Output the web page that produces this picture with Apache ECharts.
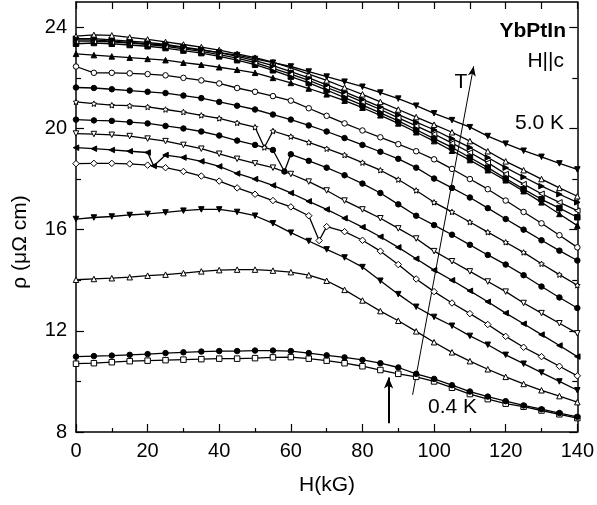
<!DOCTYPE html>
<html><head><meta charset="utf-8">
<script src="https://cdn.jsdelivr.net/npm/echarts@6/dist/echarts.min.js"></script>
<style>html,body{margin:0;padding:0;background:#fff}#c{width:597px;height:505px}</style>
</head><body><div id="c"></div>
<script>
// Magnetic field (kG)
const fieldKG = [0,5,10,15,20,25,30,35,40,45,50,55,60,65,70,75,80,85,90,95,100,105,110,115,120,125,130,135,140];
// Resistivity curves (μΩ cm), lowest temperature (0.4 K) first, highest (5.0 K) last
const rhoC01 = [10.70,10.72,10.76,10.80,10.82,10.84,10.86,10.88,10.90,10.90,10.92,10.95,10.96,10.90,10.82,10.72,10.60,10.45,10.30,10.18,10.00,9.75,9.50,9.30,9.12,9.00,8.85,8.70,8.55];
const rhoC02 = [10.98,11.00,11.02,11.05,11.08,11.12,11.15,11.18,11.20,11.20,11.22,11.22,11.20,11.12,11.03,10.95,10.85,10.72,10.55,10.30,10.10,9.85,9.60,9.40,9.22,9.05,8.90,8.75,8.60];
const rhoC03 = [14.02,14.05,14.08,14.12,14.18,14.22,14.28,14.35,14.40,14.42,14.42,14.38,14.32,14.20,13.98,13.62,13.20,12.78,12.40,11.98,11.55,11.15,10.80,10.48,10.18,9.90,9.65,9.42,9.18];
const rhoC04 = [16.42,16.48,16.52,16.58,16.62,16.68,16.75,16.80,16.80,16.70,16.55,16.25,15.88,15.55,15.22,14.90,14.52,13.98,13.45,12.95,12.55,12.20,11.80,11.45,11.05,10.70,10.35,10.00,9.65];
const rhoC05 = [18.61,18.62,18.62,18.60,18.55,18.45,18.30,18.12,17.92,17.65,17.40,17.15,16.90,16.55,16.12,15.92,15.58,15.15,14.62,14.05,13.55,13.10,12.68,12.25,11.78,11.35,10.98,10.60,10.22];
const rhoC06 = [19.24,19.20,19.15,19.10,19.05,18.95,18.85,18.70,18.50,18.22,18.00,17.75,17.45,17.12,16.80,16.45,16.10,15.72,15.30,14.85,14.40,14.00,13.58,13.15,12.70,12.28,11.85,11.42,10.98];
const rhoC07 = [19.80,19.78,19.75,19.70,19.60,19.50,19.35,19.20,19.00,18.80,18.62,18.45,18.20,17.90,17.55,17.15,16.80,16.45,16.05,15.65,15.15,14.75,14.35,13.95,13.55,13.10,12.70,12.30,11.90];
const rhoC08 = [20.35,20.32,20.30,20.25,20.20,20.10,20.00,19.88,19.72,19.52,19.35,19.15,18.98,18.72,18.45,18.15,17.82,17.45,17.00,16.55,16.18,15.80,15.40,15.00,14.62,14.20,13.75,13.32,12.90];
const rhoC09 = [21.05,20.98,20.92,20.90,20.85,20.75,20.65,20.52,20.40,20.22,20.05,19.90,19.68,19.45,19.20,18.95,18.65,18.35,17.98,17.55,17.08,16.70,16.30,15.90,15.50,15.10,14.65,14.22,13.80];
const rhoC10 = [21.62,21.60,21.55,21.50,21.45,21.40,21.30,21.20,21.05,20.90,20.75,20.55,20.35,20.12,19.88,19.62,19.35,19.08,18.80,18.45,18.02,17.65,17.27,16.85,16.42,16.00,15.58,15.17,14.78];
const rhoC11 = [22.45,22.20,22.20,22.18,22.15,22.10,22.00,21.90,21.78,21.60,21.45,21.28,21.10,20.80,20.50,20.20,19.92,19.65,19.38,19.10,18.78,18.40,18.00,17.60,17.15,16.70,16.25,15.78,15.30];
const rhoC12 = [22.95,22.90,22.85,22.80,22.75,22.70,22.60,22.52,22.42,22.32,22.20,22.00,21.80,21.58,21.35,21.10,20.82,20.52,20.20,19.85,19.50,19.12,18.75,18.35,17.95,17.52,17.08,16.62,16.16];
const rhoC13 = [23.35,23.38,23.35,23.30,23.25,23.18,23.08,22.98,22.85,22.70,22.52,22.30,22.05,21.80,21.52,21.22,20.92,20.62,20.30,19.95,19.60,19.25,18.85,18.45,18.02,17.60,17.20,16.85,16.49];
const rhoC14 = [23.45,23.45,23.42,23.38,23.32,23.25,23.15,23.05,22.92,22.78,22.60,22.38,22.15,21.90,21.62,21.35,21.05,20.75,20.42,20.10,19.78,19.42,19.05,18.65,18.20,17.80,17.42,17.08,16.75];
const rhoC15 = [23.55,23.55,23.50,23.45,23.40,23.32,23.22,23.12,23.00,22.85,22.68,22.48,22.25,22.00,21.72,21.45,21.15,20.85,20.55,20.25,19.95,19.60,19.25,18.85,18.45,18.08,17.72,17.40,17.08];
const rhoC16 = [23.65,23.70,23.68,23.60,23.52,23.42,23.32,23.22,23.10,22.95,22.80,22.62,22.40,22.15,21.90,21.62,21.35,21.05,20.75,20.45,20.15,19.85,19.50,19.10,18.70,18.35,18.00,17.65,17.32];
const rhoC17 = [23.50,23.50,23.45,23.40,23.35,23.30,23.20,23.10,23.00,22.90,22.75,22.60,22.45,22.25,22.05,21.85,21.65,21.42,21.18,20.90,20.60,20.33,20.05,19.70,19.40,19.12,18.88,18.62,18.38];
// Narrow glitches seen in some curves
const dipCurve = [6, 9, 8, 5];
const dipField = [21.7, 52.6, 58.2, 67.9];
const dipRho = [18.52, 19.25, 18.30, 15.57];
// Tick values
const yMajorTicks = [8,12,16,20,24];
const yMinorTicks = [10,14,18,22];

const curves = [rhoC01,rhoC02,rhoC03,rhoC04,rhoC05,rhoC06,rhoC07,rhoC08,rhoC09,rhoC10,rhoC11,rhoC12,rhoC13,rhoC14,rhoC15,rhoC16,rhoC17];
const STAR = 'path://M0,-10L2.9,-4L9.5,-3.1L4.7,1.5L5.9,8.1L0,5L-5.9,8.1L-4.7,1.5L-9.5,-3.1L-2.9,-4Z';
const markerStyle = [
  {s:'rect', f:false, r:0, z:5},
  {s:'circle', f:true, r:0, z:5},
  {s:'triangle', f:false, r:0, z:6},
  {s:'triangle', f:true, r:180, z:6},
  {s:'diamond', f:false, r:0, z:7},
  {s:'triangle', f:true, r:90, z:6},
  {s:'triangle', f:false, r:180, z:6},
  {s:'circle', f:true, r:0, z:5},
  {s:STAR, f:false, r:0, z:6},
  {s:'circle', f:true, r:0, z:5},
  {s:'circle', f:false, r:0, z:5},
  {s:'triangle', f:true, r:0, z:6},
  {s:'rect', f:true, r:0, z:5},
  {s:'triangle', f:false, r:90, z:6},
  {s:'triangle', f:true, r:-90, z:6},
  {s:'triangle', f:false, r:0, z:6},
  {s:'triangle', f:true, r:180, z:6}
];

const FONT = '"Liberation Sans", Arial, sans-serif';

const series = curves.map((vals, i) => {
  const pts = fieldKG.map((h, j) => [h, vals[j]]);
  dipCurve.forEach((c, k) => { if (c === i + 1) pts.push([dipField[k], dipRho[k]]); });
  pts.sort((a, b) => a[0] - b[0]);
  const m = markerStyle[i];
  return {
    type: 'line', name: 'curve' + (i + 1), data: pts,
    xAxisIndex: 0, yAxisIndex: 0,
    symbol: m.s, symbolSize: m.s === 'diamond' ? 6.5 : 5.5, symbolRotate: m.r,
    showSymbol: true, showAllSymbol: true,
    lineStyle: {color: '#000', width: 1.3},
    itemStyle: {color: m.f ? '#000' : '#fff', borderColor: '#000', borderWidth: 1},
    emphasis: {disabled: true}, silent: true, z: m.z
  };
});

series.push({
  type: 'line', data: [], xAxisIndex: 0, yAxisIndex: 0, silent: true,
  markLine: {
    silent: true, animation: false, symbol: ['none', 'arrow'], symbolSize: [6, 10],
    label: {show: false}, emphasis: {disabled: true},
    lineStyle: {color: '#000', width: 1, type: 'solid'},
    data: [[{coord: [94.0, 9.47]}, {coord: [111.05, 22.46]}]]
  }
});
series.push({
  type: 'line', data: [], xAxisIndex: 0, yAxisIndex: 0, silent: true,
  markLine: {
    silent: true, animation: false, symbol: ['none', 'arrow'], symbolSize: [7, 11],
    label: {show: false}, emphasis: {disabled: true},
    lineStyle: {color: '#000', width: 2, type: 'solid'},
    data: [[{coord: [87.3, 8.35]}, {coord: [87.3, 10.15]}]]
  }
});

const axisLineStyle = {show: true, onZero: false, lineStyle: {color: '#000', width: 1.5}};
const tickLine = {color: '#000', width: 1.2};
const option = {
  animation: false,
  backgroundColor: '#fff',
  grid: {left: 76, right: 18, top: 2, bottom: 73},
  xAxis: [
    {type: 'value', position: 'bottom', min: 0, max: 140, interval: 20,
     axisLine: axisLineStyle,
     axisTick: {show: true, inside: true, length: 8, lineStyle: tickLine},
     minorTick: {show: true, splitNumber: 2, length: 4, lineStyle: tickLine},
     axisLabel: {color: '#000', fontSize: 20, fontFamily: FONT, margin: 9},
     splitLine: {show: false}, minorSplitLine: {show: false}},
    {type: 'value', position: 'top', min: 0, max: 140, interval: 10,
     axisLine: axisLineStyle,
     axisTick: {show: true, inside: true, length: 7, lineStyle: tickLine},
     axisLabel: {show: false}, splitLine: {show: false}}
  ],
  yAxis: [
    {type: 'value', position: 'left', min: 8, max: 25,
     axisLine: axisLineStyle,
     axisTick: {show: true, inside: true, length: 8, customValues: yMajorTicks, lineStyle: tickLine},
     axisLabel: {color: '#000', fontSize: 20, fontFamily: FONT, margin: 9, customValues: yMajorTicks},
     splitLine: {show: false}},
    {type: 'value', position: 'right', min: 8, max: 25,
     axisLine: axisLineStyle,
     axisTick: {show: true, inside: true, length: 8, customValues: yMajorTicks, lineStyle: tickLine},
     axisLabel: {show: false}, splitLine: {show: false}},
    {type: 'value', position: 'left', min: 8, max: 25,
     axisLine: {show: false, onZero: false},
     axisTick: {show: true, inside: true, length: 5, customValues: yMinorTicks, lineStyle: tickLine},
     axisLabel: {show: false}, splitLine: {show: false}},
    {type: 'value', position: 'right', min: 8, max: 25,
     axisLine: {show: false, onZero: false},
     axisTick: {show: true, inside: true, length: 5, customValues: yMinorTicks, lineStyle: tickLine},
     axisLabel: {show: false}, splitLine: {show: false}}
  ],
  graphic: [
    {type: 'text', x: 566, y: 31, silent: true, style: {text: 'YbPtIn', font: 'bold 21px ' + FONT, fill: '#000', align: 'right', verticalAlign: 'middle'}},
    {type: 'text', x: 564, y: 61, silent: true, style: {text: 'H||c', font: '21px ' + FONT, fill: '#000', align: 'right', verticalAlign: 'middle'}},
    {type: 'text', x: 564, y: 123, silent: true, style: {text: '5.0 K', font: '21px ' + FONT, fill: '#000', align: 'right', verticalAlign: 'middle'}},
    {type: 'text', x: 461, y: 82, silent: true, style: {text: 'T', font: '21px ' + FONT, fill: '#000', align: 'center', verticalAlign: 'middle'}},
    {type: 'text', x: 428, y: 407, silent: true, style: {text: '0.4 K', font: '21px ' + FONT, fill: '#000', align: 'left', verticalAlign: 'middle'}},
    {type: 'text', x: 327, y: 485, silent: true, style: {text: 'H(kG)', font: '21px ' + FONT, fill: '#000', align: 'center', verticalAlign: 'middle'}},
    {type: 'text', x: 20, y: 242, rotation: Math.PI / 2, silent: true, style: {text: 'ρ (μΩ cm)', font: '21px ' + FONT, fill: '#000', align: 'center', verticalAlign: 'middle'}}
  ],
  series: series
};
const chart = echarts.init(document.getElementById('c'), null, {renderer: 'canvas'});
chart.setOption(option);
</script>
</body></html>
